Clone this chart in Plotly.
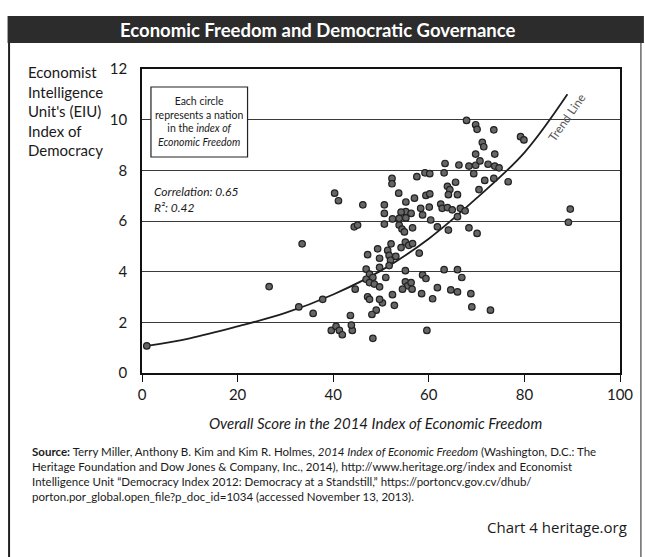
import plotly.graph_objects as go

# ---------------- data ----------------
freedom_score = [67.9, 69.8, 70.1, 73.6, 71.2, 71.5, 79.2, 79.9, 69.8, 73.8,
                 63.4, 63.2, 66.3, 68.4, 69.8, 70.7, 72.4, 73.8, 74.7, 69.4,
                 71.7, 73.6, 76.6, 59.2, 60.2, 57.5, 52.3, 52.3, 65.6, 63.9,
                 64.4, 64.1, 66.0, 70.5, 40.3, 41.1, 53.7, 46.2, 50.7, 55.2,
                 57.0, 59.4, 60.2, 55.2, 54.2, 56.3, 58.3, 60.1, 62.5, 62.8,
                 63.9, 64.9, 66.6, 67.6, 50.7, 58.7, 66.0, 52.4, 53.8, 55.2,
                 60.4, 44.4, 45.1, 50.7, 53.8, 54.4, 54.9, 56.6, 61.8, 64.1,
                 68.4, 70.1, 89.6, 89.2, 33.5, 52.1, 55.1, 55.8, 56.6, 54.2,
                 58.0, 49.3, 51.4, 51.7, 47.2, 53.1, 49.7, 52.0, 51.7, 49.7,
                 55.1, 46.9, 47.6, 48.3, 46.9, 47.6, 48.6, 49.7, 51.0, 55.1,
                 55.6, 56.5, 56.3, 54.5, 58.7, 59.4, 61.8, 63.2, 66.0, 66.9,
                 64.6, 66.0, 68.8, 69.0, 72.9, 60.8, 58.5, 52.4, 52.8, 50.3,
                 49.7, 49.0, 48.1, 47.2, 47.6, 44.6, 43.6, 37.8, 35.8, 32.8,
                 26.6, 39.6, 40.6, 41.3, 41.9, 44.0, 43.8, 48.3, 59.6, 1.0]
democracy_index = [9.97, 9.80, 9.62, 9.60, 9.10, 8.93, 9.33, 9.20, 8.64, 8.64,
                   8.27, 7.90, 8.21, 8.17, 8.20, 8.37, 8.24, 8.17, 8.10, 7.87,
                   7.60, 7.68, 7.55, 7.90, 7.87, 7.75, 7.68, 7.47, 7.53, 7.37,
                   7.24, 7.04, 7.04, 7.24, 7.10, 6.80, 7.10, 6.64, 6.64, 6.75,
                   6.90, 7.01, 7.07, 6.37, 6.35, 6.30, 6.50, 6.55, 6.67, 6.50,
                   6.53, 6.44, 6.50, 6.40, 6.30, 6.24, 6.17, 6.08, 6.10, 6.12,
                   6.04, 5.77, 5.84, 5.88, 5.84, 5.68, 5.57, 5.73, 5.77, 5.64,
                   5.73, 5.51, 6.47, 5.95, 5.10, 5.10, 5.17, 5.04, 5.11, 4.95,
                   4.73, 4.90, 4.84, 4.64, 4.67, 4.60, 4.53, 4.45, 4.24, 4.17,
                   4.04, 4.10, 3.90, 3.77, 3.70, 3.57, 3.51, 3.40, 3.77, 3.60,
                   3.44, 3.31, 3.57, 3.31, 3.87, 3.73, 3.37, 4.08, 4.08, 3.77,
                   3.28, 3.20, 3.13, 2.61, 2.48, 2.93, 3.13, 3.09, 2.67, 2.77,
                   2.91, 2.48, 2.31, 3.01, 2.91, 3.31, 2.27, 2.91, 2.35, 2.61,
                   3.41, 1.68, 1.84, 1.68, 1.51, 1.68, 1.89, 1.37, 1.68, 1.07]

trend_x = [1, 10, 20, 30, 40, 50, 60, 70, 80, 89]
trend_y = [1.07, 1.37, 1.84, 2.37, 3.10, 4.04, 5.30, 6.90, 8.70, 11.0]

x_ticks = [0, 20, 40, 60, 80, 100]
y_ticks = [0, 2, 4, 6, 8, 10, 12]

# ---------------- geometry helpers (pixel -> paper) ----------------
W, H = 645, 557
L, R, T, B = 142, 23, 69, 184
PW, PH = W - L - R, H - T - B


def px(x):
    return (x - L) / PW


def py(y):
    return (H - B - y) / PH


FONT = "Lato"

fig = go.Figure()

fig.add_trace(go.Scatter(
    x=trend_x, y=trend_y, mode="lines", line=dict(color="#1e1e1e", width=1.8, shape="spline"),
    hoverinfo="skip", showlegend=False))

fig.add_trace(go.Scatter(
    x=freedom_score, y=democracy_index, mode="markers",
    marker=dict(size=6.5, color="#666666", line=dict(color="#222222", width=1.2)),
    showlegend=False))

fig.update_layout(
    width=W, height=H, autosize=False,
    margin=dict(l=L, r=R, t=T, b=B, pad=0),
    paper_bgcolor="white", plot_bgcolor="white",
    font=dict(family=FONT, color="#1a1a1a"),
    xaxis=dict(range=[0, 100], tickvals=x_ticks, ticktext=[str(v) for v in x_ticks],
               showgrid=False, zeroline=False, showline=True, mirror=True,
               linecolor="#111", linewidth=1.5, ticks="outside", ticklen=7,
               tickcolor="#111", tickfont=dict(size=15, family=FONT), fixedrange=True),
    yaxis=dict(range=[0, 12], tickvals=y_ticks, ticktext=[str(v) for v in y_ticks],
               showgrid=True, gridcolor="#3a3a3a", gridwidth=1.3, zeroline=False,
               showline=True, mirror=True, linecolor="#111", linewidth=1.5,
               ticks="", tickfont=dict(size=15, family=FONT), ticklabelstandoff=10,
               fixedrange=True),
)

shapes = []
# Title bar
shapes.append(dict(type="rect", xref="paper", yref="paper",
                   x0=px(7), x1=px(646), y0=py(43), y1=py(16),
                   fillcolor="#2c2c2c", line=dict(width=0), layer="below"))
# frame lines of the panel
shapes.append(dict(type="line", xref="paper", yref="paper",
                   x0=px(8.5), x1=px(8.5), y0=py(43), y1=py(557),
                   line=dict(color="#222", width=2)))
shapes.append(dict(type="line", xref="paper", yref="paper",
                   x0=px(643), x1=px(643), y0=py(43), y1=py(557),
                   line=dict(color="#444", width=1.2)))
# note box
shapes.append(dict(type="rect", xref="paper", yref="paper",
                   x0=px(151), x1=px(248), y0=py(157), y1=py(87),
                   fillcolor="white", line=dict(color="#222", width=1.2)))
fig.update_layout(shapes=shapes)

ann = []
ann.append(dict(xref="paper", yref="paper", x=px(318), y=py(30), showarrow=False,
                text="<b>Economic Freedom and Democratic Governance</b>",
                font=dict(size=18.5, color="white", family=FONT),
                xanchor="center", yanchor="middle"))
ann.append(dict(xref="paper", yref="paper", x=px(26), y=py(61), showarrow=False,
                text="Economist<br>Intelligence<br>Unit's (EIU)<br>Index of<br>Democracy",
                align="left", xanchor="left", yanchor="top",
                font=dict(size=15, color="#1a1a1a", family=FONT)))
ann.append(dict(xref="paper", yref="paper", x=px(199.5), y=py(122), showarrow=False,
                text="Each circle<br>represents a nation<br>in the <i>index of</i><br><i>Economic Freedom</i>",
                align="center", xanchor="center", yanchor="middle",
                font=dict(size=10.5, color="#1a1a1a", family=FONT)))
ann.append(dict(xref="paper", yref="paper", x=px(152), y=py(199), showarrow=False,
                text="<i>Correlation: 0.65</i><br><i>R\u00b2: 0.42</i>",
                align="left", xanchor="left", yanchor="middle",
                font=dict(size=12, color="#1a1a1a", family=FONT)))
ann.append(dict(xref="x", yref="y", x=88.8, y=10.1, showarrow=False,
                text="Trend Line", textangle=-55,
                font=dict(size=12, color="#555", family=FONT),
                xanchor="center", yanchor="middle"))
ann.append(dict(xref="paper", yref="paper", x=px(376), y=py(423), showarrow=False,
                text="<i>Overall Score in the 2014 Index of Economic Freedom</i>",
                xanchor="center", yanchor="middle",
                font=dict(size=15, color="#1a1a1a", family=FONT)))
source = ("<b>Source:</b> Terry Miller, Anthony B. Kim and Kim R. Holmes, <i>2014 Index of Economic Freedom</i> (Washington, D.C.: The<br>"
          "Heritage Foundation and Dow Jones &amp; Company, Inc., 2014), http://www.heritage.org/index and Economist<br>"
          "Intelligence Unit \u201cDemocracy Index 2012: Democracy at a Standstill,\u201d https://portoncv.gov.cv/dhub/<br>"
          "porton.por_global.open_file?p_doc_id=1034 (accessed November 13, 2013).")
ann.append(dict(xref="paper", yref="paper", x=px(30), y=py(443), showarrow=False,
                text=source, align="left", xanchor="left", yanchor="top",
                font=dict(size=11.5, color="#1a1a1a", family=FONT)))
ann.append(dict(xref="paper", yref="paper", x=px(631), y=py(527), showarrow=False,
                text="Chart 4 heritage.org", xanchor="right", yanchor="middle",
                font=dict(size=15, color="#1a1a1a", family="Open Sans")))
fig.update_layout(annotations=ann)

fig.write_html("out.html", config={"displayModeBar": False},
               post_script="document.body.style.margin='0';")
